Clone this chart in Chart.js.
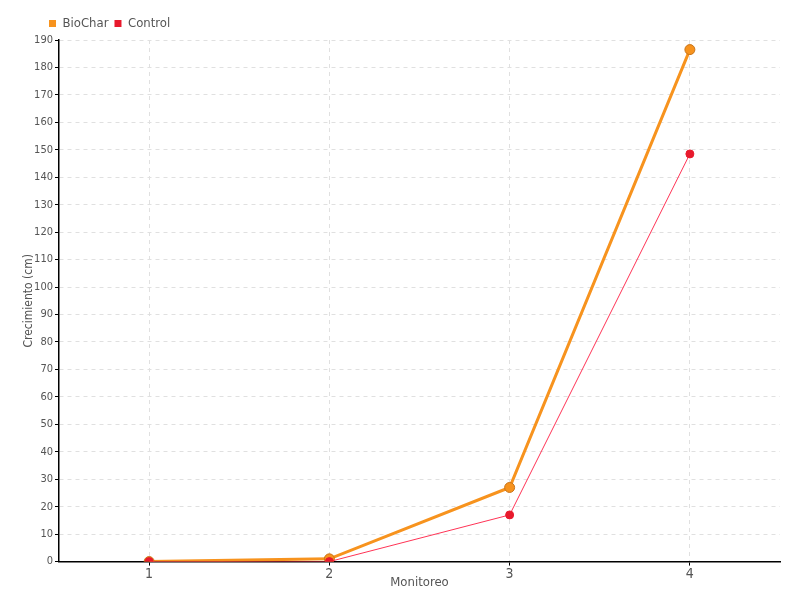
<!DOCTYPE html>
<html>
<head>
<meta charset="utf-8">
<script src="https://cdn.jsdelivr.net/npm/chart.js@4"></script>
<style>
  html, body { margin: 0; padding: 0; background: #fff; }
  #wrap { width: 800px; height: 600px; }
</style>
</head>
<body>
<div id="wrap"><canvas id="chart"></canvas></div>
<script>
const labels = ['1', '2', '3', '4'];
const biocharValues = [0, 1, 27, 186.5];
const controlValues = [0, 0, 17, 148.5];

Chart.defaults.font.family = "'DejaVu Sans Condensed', 'DejaVu Sans', sans-serif";
Chart.defaults.color = '#555';

// push the legend to the right, the reference starts it near the axis
const legendShift = {
  id: 'legendShift',
  afterLayout(chart) {
    chart.legend.left += 21;
  }
};

const ctx = document.getElementById('chart').getContext('2d');
const chart = new Chart(ctx, {
  type: 'line',
  data: {
    labels: labels,
    datasets: [
      {
        label: 'BioChar',
        data: biocharValues,
        order: 2,
        borderColor: '#f7931e',
        backgroundColor: '#f7931e',
        borderWidth: 3,
        pointRadius: 5,
        pointBackgroundColor: '#f7931e',
        pointBorderColor: '#c8741a',
        pointBorderWidth: 1,
        tension: 0,
      },
      {
        label: 'Control',
        data: controlValues,
        order: 1,
        borderColor: '#ff3355',
        backgroundColor: '#e8192c',
        borderWidth: 1,
        pointRadius: 4,
        pointBackgroundColor: '#e8192c',
        pointBorderColor: '#e8192c',
        tension: 0,
      }
    ]
  },
  options: {
    responsive: true,
    maintainAspectRatio: false,
    animation: false,
    layout: { padding: { left: 22, right: 20, top: 11, bottom: 10 } },
    scales: {
      x: {
        offset: true,
        grid: {
          offset: false,
          color: '#e0e0e0',
          tickColor: '#000',
          tickLength: 4,
        },
        border: { color: '#000', width: 1.5, dash: [4, 4] },
        ticks: { font: { size: 14 }, color: '#555', padding: 0 },
        title: { display: true, text: 'Monitoreo', font: { size: 13 }, color: '#555', padding: { top: -8, bottom: 0 } },
      },
      y: {
        min: 0,
        max: 190,
        afterFit(scale) { scale.width = 37; },
        ticks: { stepSize: 10, font: { size: 11 }, color: '#555', padding: 2 },
        grid: {
          color: '#e0e0e0',
          tickColor: '#000',
          tickLength: 4,
        },
        border: { color: '#000', width: 1.5, dash: [4, 4] },
        title: { display: true, text: 'Crecimiento (cm)', font: { size: 12 }, color: '#555', padding: 0 },
      }
    },
    plugins: {
      legend: {
        display: true,
        align: 'start',
        labels: {
          boxWidth: 7, boxHeight: 7, padding: 6, font: { size: 13 }, color: '#555',
          sort: (a, b) => a.datasetIndex - b.datasetIndex,
          generateLabels(chart) {
            const items = Chart.defaults.plugins.legend.labels.generateLabels(chart);
            items.forEach(item => { item.lineWidth = 0; });
            return items;
          }
        }
      },
      tooltip: { enabled: false }
    }
  },
  plugins: [legendShift]
});
</script>
</body>
</html>
